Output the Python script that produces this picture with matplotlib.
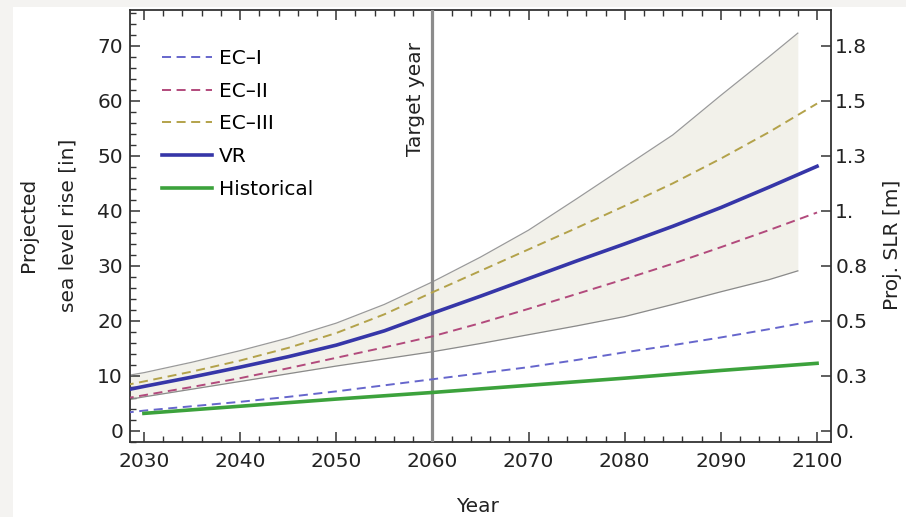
import matplotlib
matplotlib.use("Agg")
import matplotlib.pyplot as plt
from matplotlib.patches import Rectangle
from matplotlib.ticker import MultipleLocator

plt.rcParams["font.family"] = ["DejaVu Sans"]
plt.rcParams["lines.scale_dashes"] = False

FS = 14.5

# projection years (5-year grid) and series in inches
years = [2028, 2030, 2035, 2040, 2045, 2050, 2055, 2060, 2065, 2070,
         2075, 2080, 2085, 2090, 2095, 2100]
ec1 = [3.3, 3.7, 4.5, 5.3, 6.2, 7.2, 8.3, 9.4, 10.5, 11.6,
       12.9, 14.3, 15.6, 17.0, 18.5, 20.1]
ec2 = [5.9, 6.5, 8.0, 9.6, 11.4, 13.3, 15.2, 17.2, 19.6, 22.2,
       24.9, 27.6, 30.4, 33.4, 36.5, 39.7]
ec3 = [8.3, 9.0, 10.8, 12.8, 15.1, 17.8, 21.2, 25.2, 29.1, 33.0,
       36.9, 40.9, 45.0, 49.5, 54.3, 59.5]
vr = [7.4, 8.1, 9.8, 11.6, 13.5, 15.6, 18.2, 21.4, 24.5, 27.7,
      30.9, 34.0, 37.2, 40.6, 44.3, 48.1]

# historical trend
hist_years = [2030, 2040, 2050, 2060, 2070, 2080, 2090, 2100]
hist = [3.2, 4.5, 5.8, 7.0, 8.3, 9.6, 11.0, 12.3]

# uncertainty envelope
band_years = [2028, 2030, 2035, 2040, 2045, 2050, 2055, 2060, 2065, 2070,
              2075, 2080, 2085, 2090, 2095, 2098]
band_hi = [10.0, 10.6, 12.5, 14.6, 16.9, 19.6, 23.0, 27.1, 31.6, 36.5,
           42.2, 48.0, 53.8, 61.0, 68.0, 72.3]
band_lo = [5.6, 6.2, 7.6, 9.0, 10.4, 11.8, 13.1, 14.4, 15.9, 17.5,
           19.1, 20.8, 23.0, 25.3, 27.5, 29.1]

target_year = 2060

y_ticks = [0, 10, 20, 30, 40, 50, 60, 70]
m_labels = ["0.", "0.3", "0.5", "0.8", "1.", "1.3", "1.5", "1.8"]
x_ticks = [2030, 2040, 2050, 2060, 2070, 2080, 2090, 2100]

fig = plt.figure(figsize=(9.06, 5.17), dpi=100, facecolor="white")
# grey page margin on the left and top
fig.patches.append(Rectangle((0, 0), 13 / 906, 1, transform=fig.transFigure,
                             facecolor="#f4f3f1", edgecolor="none", zorder=-10))
fig.patches.append(Rectangle((0, 1 - 7 / 517), 1, 7 / 517, transform=fig.transFigure,
                             facecolor="#f4f3f1", edgecolor="none", zorder=-10))
ax = fig.add_axes([130 / 906, 75 / 517, 701 / 906, 432 / 517])
ax.set_facecolor("none")

ax.fill_between(band_years, band_lo, band_hi, color="#f2f1ea", lw=0, zorder=1)
ax.plot(band_years, band_hi, color="#9a9a9a", lw=0.9, zorder=2)
ax.plot(band_years, band_lo, color="#8a8a8a", lw=0.9, zorder=2)

ax.axvline(target_year, color="#8c8c8c", lw=2.3, zorder=3)
ax.annotate("Target year", xy=(target_year, 1), xycoords=("data", "axes fraction"),
            xytext=(-5, -23), textcoords="offset points", rotation=90,
            ha="right", va="top", fontsize=FS, color="#222222")

dash = (0, (6.5, 4))
l1, = ax.plot(years, ec1, color="#6666cc", lw=1.4, ls=dash, label="EC\u2013I", zorder=4)
l2, = ax.plot(years, ec2, color="#b24a7c", lw=1.4, ls=dash, label="EC\u2013II", zorder=4)
l3, = ax.plot(years, ec3, color="#b3a24a", lw=1.4, ls=dash, label="EC\u2013III", zorder=4)
l4, = ax.plot(years, vr, color="#3636a8", lw=2.6, label="VR", zorder=5)
l5, = ax.plot(hist_years, hist, color="#3ca23c", lw=2.6, label="Historical", zorder=5)

ax.set_xlim(2028.55, 2101.45)
ax.set_ylim(-2.0, 76.5)
ax.set_xticks(x_ticks)
ax.set_yticks(y_ticks)
ax.xaxis.set_minor_locator(MultipleLocator(2))
ax.yaxis.set_minor_locator(MultipleLocator(2))
ax.tick_params(which="both", direction="in", top=True, right=False,
               colors="#333333", labelcolor="#222222", labelsize=FS)
ax.tick_params(which="major", length=7, width=1.1)
ax.tick_params(which="minor", length=4, width=1.0)
ax.tick_params(axis="x", pad=7)
ax.tick_params(axis="y", pad=5)
for sp in ax.spines.values():
    sp.set_color("#333333")
    sp.set_linewidth(1.3)

ax2 = ax.twinx()
ax2.set_ylim(ax.get_ylim())
ax2.set_yticks(y_ticks)
ax2.set_yticklabels(m_labels)
ax2.tick_params(direction="in", length=7, width=1.1, colors="#333333",
                labelcolor="#222222", labelsize=FS, pad=3)
for sp in ax2.spines.values():
    sp.set_visible(False)

ax.legend(handles=[l1, l2, l3, l4, l5], loc="upper left",
          bbox_to_anchor=(0.045, 0.91), frameon=False, fontsize=FS,
          handlelength=2.5, handletextpad=0.35, labelspacing=0.68,
          borderpad=0, borderaxespad=0)

fig.text(28 / 906, 1 - 225 / 517, "Projected", rotation=90, ha="center",
         va="center", fontsize=FS, color="#222222")
fig.text(68 / 906, 1 - 225 / 517, "sea level rise [in]", rotation=90, ha="center",
         va="center", fontsize=FS, color="#222222")
fig.text(893 / 906, 1 - 245 / 517, "Proj. SLR [m]", rotation=90, ha="center",
         va="center", fontsize=FS, color="#222222")
fig.text(478 / 906, 1 - 506 / 517, "Year", ha="center", va="center",
         fontsize=FS, color="#222222")

fig.savefig("out.png", dpi=100, facecolor=fig.get_facecolor())
